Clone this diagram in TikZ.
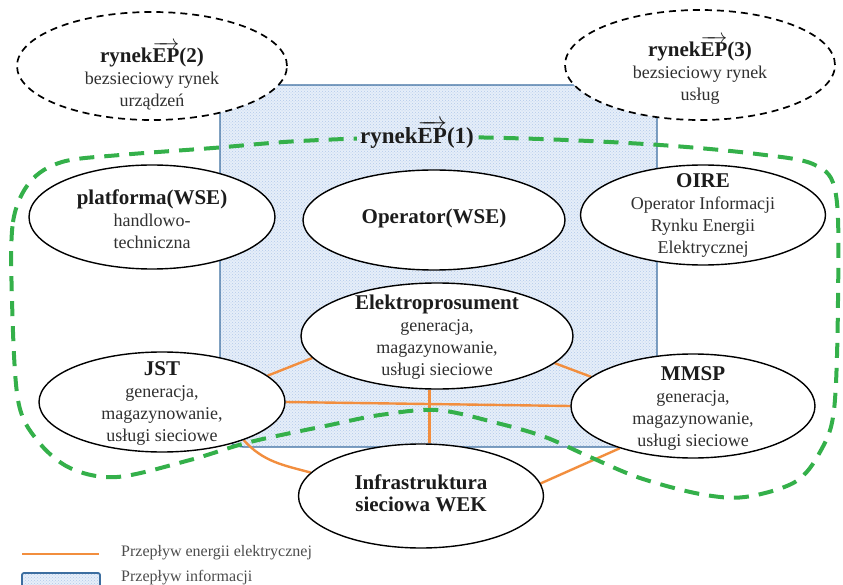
\documentclass[tikz,border=0pt]{standalone}
\usepackage{fontspec}
\setmainfont{Liberation Serif}
\usetikzlibrary{shapes.geometric,patterns,backgrounds}
\definecolor{infoblue}{RGB}{230,238,249}
\definecolor{infodots}{RGB}{178,202,234}
\definecolor{infoedge}{RGB}{60,110,160}
\definecolor{energy}{RGB}{242,142,62}
\definecolor{zone}{RGB}{52,176,74}
\definecolor{txt}{RGB}{48,48,48}
\definecolor{ttl}{RGB}{28,28,28}
\newcommand{\epvec}{$\overrightarrow{\hbox{\bfseries EP}}$}
\newcommand{\ttlfont}{\fontsize{21}{24}\selectfont\bfseries\color{ttl}}

\begin{document}
\begin{tikzpicture}[x=1pt,y=-1pt,
  actor/.style={ellipse, draw=black, line width=1.4pt, fill=white, inner sep=0pt},
  market/.style={ellipse, draw=black, dash pattern=on 7pt off 5pt, line width=1.7pt, fill=white, inner sep=0pt},
  txtblock/.style={align=center, text=txt, font=\fontsize{18}{22}\selectfont, inner sep=0pt},
  infofill/.style={preaction={fill=infoblue}, pattern=crosshatch dots, pattern color=infodots},
  flow/.style={draw=energy, line width=2.4pt},
  zoneline/.style={draw=zone, line width=4pt, dash pattern=on 15pt off 10pt},
  legendtxt/.style={anchor=west, inner sep=0pt, text=black!70, font=\fontsize{16}{18}\selectfont},
]
\useasboundingbox (0,0) rectangle (843,585);

% unregulated markets (dashed)
\node[market, minimum width=270pt, minimum height=108pt] (m2) at (152,66) {};
\node[txtblock] (m2t) at (152,76) {{\ttlfont rynek\epvec(2)}\\bezsieciowy rynek\\urządzeń};
\node[market, minimum width=270pt, minimum height=110pt] (m3) at (700,65) {};
\node[txtblock] (m3t) at (700,70) {{\ttlfont rynek\epvec(3)}\\bezsieciowy rynek\\usług};

% market participants
\node[actor, minimum width=246pt, minimum height=104pt] (plat) at (152,217) {};
\node[txtblock] (platt) at (152,219) {{\ttlfont platforma(WSE)}\\handlowo-\\techniczna};
\node[actor, minimum width=262pt, minimum height=100pt] (oper) at (434,220) {};
\node[txtblock] (opert) at (434,218) {{\ttlfont Operator(WSE)}};
\node[actor, minimum width=245pt, minimum height=100pt] (oire) at (703,215) {};
\node[txtblock] (oiret) at (703,215) {{\ttlfont OIRE}\\Operator Informacji\\Rynku Energii\\Elektrycznej};
\node[actor, minimum width=272pt, minimum height=106pt] (elek) at (437,336) {};
\node[txtblock] (elekt) at (437,337) {{\ttlfont Elektroprosument}\\generacja,\\magazynowanie,\\usługi sieciowe};
\node[actor, minimum width=246pt, minimum height=100pt] (jst) at (162,402) {};
\node[txtblock] (jstt) at (162,403) {{\ttlfont JST}\\generacja,\\magazynowanie,\\usługi sieciowe};
\node[actor, minimum width=244pt, minimum height=104pt] (mmsp) at (693,406) {};
\node[txtblock] (mmspt) at (693,408) {{\ttlfont MMSP}\\generacja,\\magazynowanie,\\usługi sieciowe};
\node[actor, minimum width=245pt, minimum height=104pt] (infra) at (421,496) {};
\node[txtblock] (infrat) at (421,493) {{\ttlfont Infrastruktura}\\{\ttlfont sieciowa WEK}};

% information exchange area and energy flows
\begin{scope}[on background layer]
  \draw[infofill, draw=infoedge, line width=1.3pt, rounded corners=24pt] (220,85) rectangle (657,447);
  \draw[flow] (jst.14) -- (elek.190);
  \draw[flow] (jst.east) -- (mmsp.west);
  \draw[flow] (elek.262) -- (elek.262 |- infra.north);
  \draw[flow] (elek.347) -- (mmsp.164);
  \draw[flow] (jst.335) to[out=-48, in=165] (infra.168);
  \draw[flow] (mmsp.210) -- (infra.6);
\end{scope}

% boundary of the regulated market
\draw[zoneline] plot[smooth cycle, tension=0.55] coordinates {
  (12,300) (13,222) (30,182) (62,162) (120,155) (213,148) (300,141) (420,137)
  (540,139) (660,145) (757,154) (815,165) (836,195) (838,300) (834,410)
  (820,452) (795,482) (745,497) (700,494) (640,478) (590,457) (545,437)
  (497,423) (437,410) (380,415) (330,425) (250,442) (190,460) (117,477)
  (70,468) (37,440) (18,400)};

\node[infofill, inner xsep=3pt, inner ysep=1pt, font=\fontsize{23}{26}\selectfont\bfseries, text=ttl] (m1) at (417,134) {rynek\epvec(1)};

% legend
\coordinate (l1a) at (22,554);
\coordinate (l1b) at (99,554);
\draw[flow] (l1a) -- (l1b);
\node[legendtxt] (l1t) at (121,553) {Przepływ energii elektrycznej};
\draw[infofill, draw=infoedge, line width=1.8pt, rounded corners=2pt] (22,573) rectangle (100,587);
\node[legendtxt] (l2t) at (121,578) {Przepływ informacji};
\end{tikzpicture}
\end{document}
